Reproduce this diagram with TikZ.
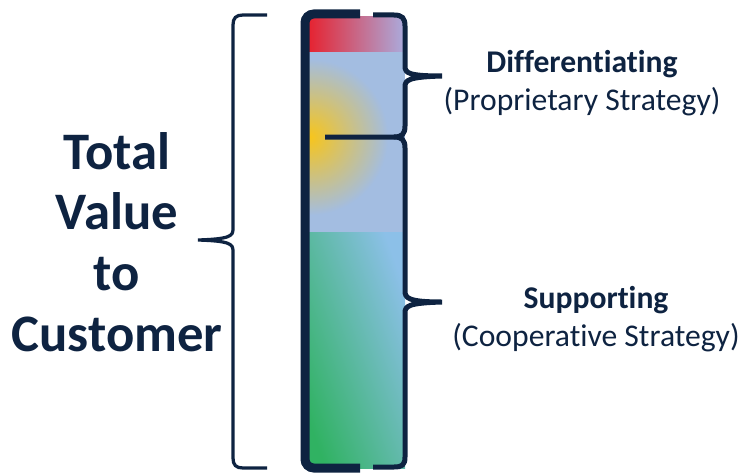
\documentclass[tikz,border=0pt]{standalone}
\usepackage{fontspec}
\setmainfont{Carlito}[Ligatures=NoCommon]
\usepackage{xcolor}
\usepackage{tikz}
\usetikzlibrary{calc}
\definecolor{navyink}{RGB}{14,35,65}
\definecolor{barblue}{RGB}{163,189,225}
\definecolor{redtop}{RGB}{232,30,42}
\definecolor{pinkmid}{RGB}{205,80,130}
\definecolor{lavender}{RGB}{170,172,222}
\definecolor{glowyellow}{RGB}{247,197,28}
\definecolor{greenbase}{RGB}{48,178,98}
\definecolor{skyblue}{RGB}{140,192,232}

\begin{document}
\begin{tikzpicture}[x=0.02cm,y=-0.02cm,
    rail/.style={draw=navyink, line width=0.18cm, rounded corners=5pt},
    bracket/.style={draw=navyink, line width=0.1cm},
    bigbrace/.style={draw=navyink, line width=0.065cm},
    biglabel/.style={font=\fontsize{30}{34.6}\selectfont\bfseries, text=navyink, align=center},
    sidelabel/.style={font=\fontsize{18}{22}\selectfont, text=navyink, align=center}]
    \useasboundingbox (0,0) rectangle (743,473);

    % Column fill
    \shade[left color=redtop, middle color=pinkmid, right color=lavender] (305,17) rectangle (405,52);
    \fill[barblue] (305,52) rectangle (405,232);
    \begin{scope}
        \clip (305,52) rectangle (405,232);
        \shade[inner color=glowyellow, outer color=barblue] (310,137) circle (78);
    \end{scope}
    \shade[left color=greenbase, right color=skyblue, shading angle=110] (305,232) rectangle (405,468);

    % Column outline
    \draw[rail] (360,14) -- (305,14) -- (305,468) -- (360,468);

    % Upper brace
    \draw[bracket] (373,15) -- (394,15) .. controls (402,15) and (405,18) .. (405,26)
        -- (405,66) .. controls (405,73) and (408,76) .. (442,76)
        .. controls (408,77) and (405,80) .. (405,87)
        -- (405,126) .. controls (405,134) and (402,137) .. (394,137) -- (325,137);

    % Lower brace
    \draw[bracket] (394,137) .. controls (402,137) and (405,140) .. (405,148)
        -- (405,291) .. controls (405,298) and (408,302) .. (442,302)
        .. controls (408,303) and (405,306) .. (405,313)
        -- (405,457) .. controls (405,465) and (402,467) .. (394,467) -- (373,467);

    % Total brace
    \draw[bigbrace] (267,15) -- (243,15) .. controls (236,15) and (233,18) .. (233,25)
        -- (233,229) .. controls (233,236) and (230,239) .. (198,240)
        .. controls (230,241) and (233,244) .. (233,251)
        -- (233,458) .. controls (233,465) and (236,468) .. (243,468) -- (267,468);

    % Labels
    \node[biglabel] (total) at (117,242) {Total\\Value\\to\\Customer};
    \node[sidelabel] (diff) at (582,83) {\textbf{Differentiating}\\(Proprietary Strategy)};
    \node[sidelabel] (supp) at (596,319) {\textbf{Supporting}\\(Cooperative Strategy)};
\end{tikzpicture}
\end{document}
